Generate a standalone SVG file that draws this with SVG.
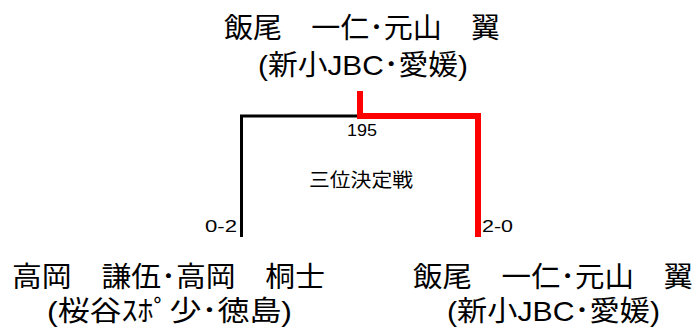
<svg xmlns="http://www.w3.org/2000/svg" width="697" height="332" viewBox="0 0 697 332">
<style>
.name{font-family:"Liberation Sans","Noto Sans CJK JP",sans-serif;font-size:28px;fill:#000}
.small{font-family:"Liberation Sans","Noto Sans CJK JP",sans-serif;font-size:17px;fill:#000}
.mid{font-family:"Noto Sans CJK JP",sans-serif;font-size:19px;fill:#000}
</style>
<rect width="697" height="332" fill="#fff"/>
<g id="connectors" fill="none">
<polyline points="241.5,237 241.5,116 360,116" stroke="#000" stroke-width="3"/>
<polyline points="360,91 360,116 478,116 478,237" stroke="#ff0000" stroke-width="6"/>
</g>
<g id="top">
<text class="name" x="224" y="38" textLength="276" lengthAdjust="spacingAndGlyphs">飯尾　一仁･元山　翼</text>
<text class="name" x="258" y="75" textLength="210" lengthAdjust="spacingAndGlyphs">(新小JBC･愛媛)</text>
</g>
<g id="match">
<text class="small" x="347" y="136" textLength="30" lengthAdjust="spacingAndGlyphs">195</text>
<text class="mid" x="309" y="187" textLength="104" lengthAdjust="spacingAndGlyphs">三位決定戦</text>
<text class="small" x="205" y="232" textLength="32" lengthAdjust="spacingAndGlyphs">0-2</text>
<text class="small" x="482" y="232" textLength="31" lengthAdjust="spacingAndGlyphs">2-0</text>
</g>
<g id="left">
<text class="name" x="12" y="287" textLength="313" lengthAdjust="spacingAndGlyphs">高岡　謙伍･高岡　桐士</text>
<text class="name" x="47" y="321" textLength="245" lengthAdjust="spacingAndGlyphs">(桜谷ｽﾎﾟ少･徳島)</text>
</g>
<g id="right">
<text class="name" x="413" y="287" textLength="280" lengthAdjust="spacingAndGlyphs">飯尾　一仁･元山　翼</text>
<text class="name" x="447" y="321" textLength="213" lengthAdjust="spacingAndGlyphs">(新小JBC･愛媛)</text>
</g>
</svg>
